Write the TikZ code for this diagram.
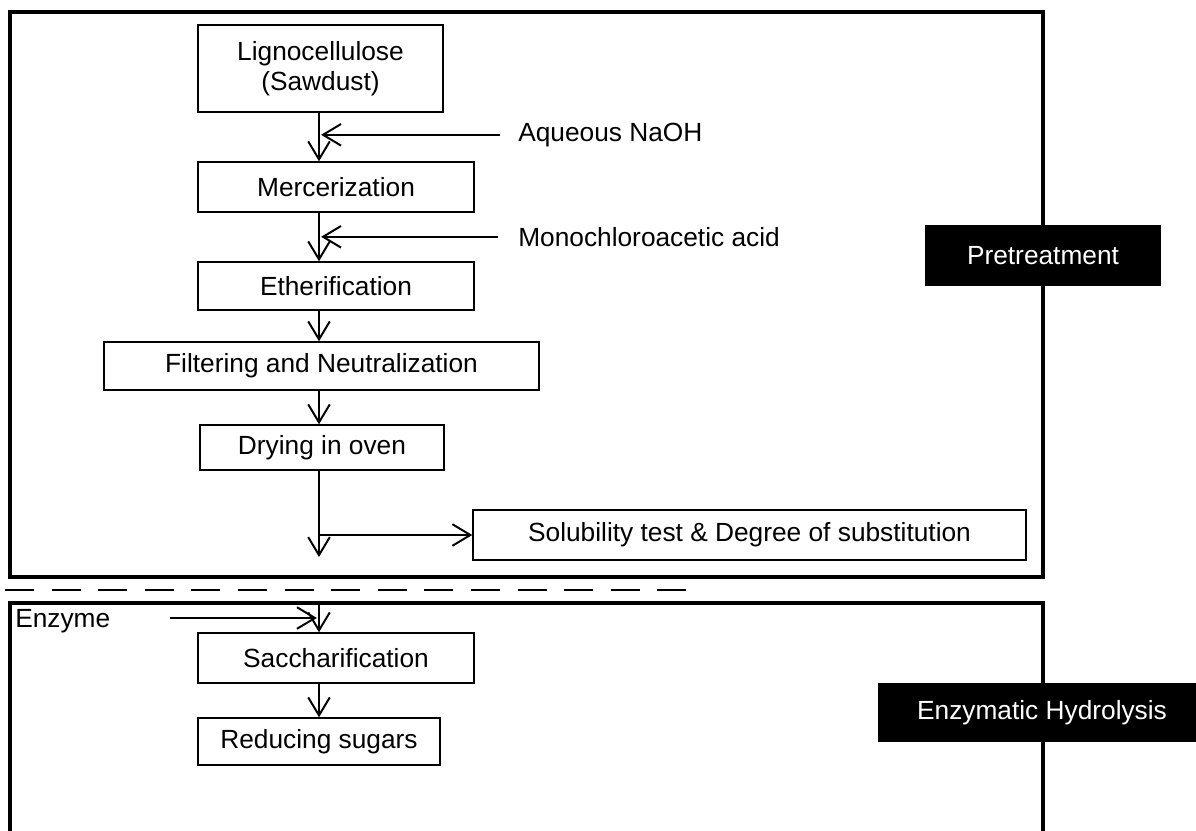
\documentclass[tikz,border=0pt]{standalone}
\usepackage{fontspec}
\setmainfont{Liberation Sans}
\usetikzlibrary{arrows.meta,positioning}

\begin{document}
\begin{tikzpicture}[every node/.style={font=\fontsize{18.7}{21.3}\selectfont},
  stepbox/.style={draw, line width=1pt, align=center, inner sep=0pt},
  stagebox/.style={fill=black, text=white, inner sep=0pt},
  flow/.style={-{Straight Barb[length=4.5mm,width=5.4mm]}, line width=1.4pt},
  frame/.style={line width=2.4pt}]
  \useasboundingbox (0,0) rectangle (29.9,-20.75);
  \clip (0,0) rectangle (29.9,-20.75);
  % frames of the two stages
  \draw[frame] (0.25,-0.3) rectangle (26.075,-14.425);
  \draw[frame] (0.25,-15.075) rectangle (26.075,-21.5);
  \draw[line width=1.4pt, dash pattern=on 0.725cm off 0.44cm] (0.125,-14.75) -- (17.16,-14.75);
  \coordinate (axis) at (7.975,0);
  % pretreatment steps
  \node[stepbox, minimum width=6.125cm, minimum height=2.175cm] (ligno) at (8.0125,-1.7125) {Lignocellulose\\(Sawdust)};
  \node[stepbox, minimum width=6.9cm, minimum height=1.25cm] (merc) at (8.4,-4.675) {Mercerization};
  \node[stepbox, minimum width=6.9cm, minimum height=1.2cm] (ether) at (8.4,-7.15) {Etherification};
  \node[stepbox, minimum width=10.875cm, minimum height=1.2cm] (filter) at (8.0375,-9.15) {Filtering and Neutralization};
  \node[stepbox, minimum width=6.1cm, minimum height=1.125cm] (dry) at (8.05,-11.1875) {Drying in oven};
  \node[stepbox, minimum width=13.825cm, minimum height=1.25cm] (sol) at (18.7375,-13.375) {Solubility test \& Degree of substitution};
  % reagents
  \node[anchor=west, inner sep=0pt] (naoh) at (12.95,-3.37) {Aqueous NaOH};
  \node[anchor=west, inner sep=0pt] (mca) at (12.95,-5.92) {Monochloroacetic acid};
  \draw[flow] (ligno.south -| axis) -- (merc.north -| axis);
  \draw[flow, shorten <=0.45cm, shorten >=1.5pt] (naoh.west) -- (naoh.west -| axis);
  \draw[flow] (merc.south -| axis) -- (ether.north -| axis);
  \draw[flow, shorten <=0.5cm, shorten >=1.5pt] (mca.west) -- (mca.west -| axis);
  \draw[flow] (ether.south -| axis) -- (filter.north -| axis);
  \draw[flow] (filter.south -| axis) -- (dry.north -| axis);
  \coordinate (dryend) at (7.975,-13.925);
  \draw[flow] (dry.south -| axis) -- (dryend);
  \draw[flow] (sol.west -| axis) -- (sol.west);
  % hydrolysis steps
  \node[stepbox, minimum width=6.9cm, minimum height=1.25cm] (sacch) at (8.4,-16.45) {Saccharification};
  \node[stepbox, minimum width=6.05cm, minimum height=1.175cm] (sugar) at (7.975,-18.5375) {Reducing sugars};
  \node[anchor=west, inner sep=0pt] (enzyme) at (0.375,-15.52) {Enzyme};
  \coordinate (gate) at (7.975,-15.075);
  \coordinate (enzin) at (4.25,-15.45);
  \draw[flow] (gate) -- (sacch.north -| axis);
  \draw[flow, shorten >=1.5pt] (enzin) -- (enzin -| axis);
  \draw[flow] (sacch.south -| axis) -- (sugar.north -| axis);
  % stage labels
  \node[stagebox, minimum width=5.9cm, minimum height=1.525cm] (pre) at (26.075,-6.3875) {Pretreatment};
  \node[stagebox, minimum width=8.2cm, minimum height=1.475cm] (hydro) at (26.05,-17.8125) {Enzymatic Hydrolysis};
\end{tikzpicture}
\end{document}
